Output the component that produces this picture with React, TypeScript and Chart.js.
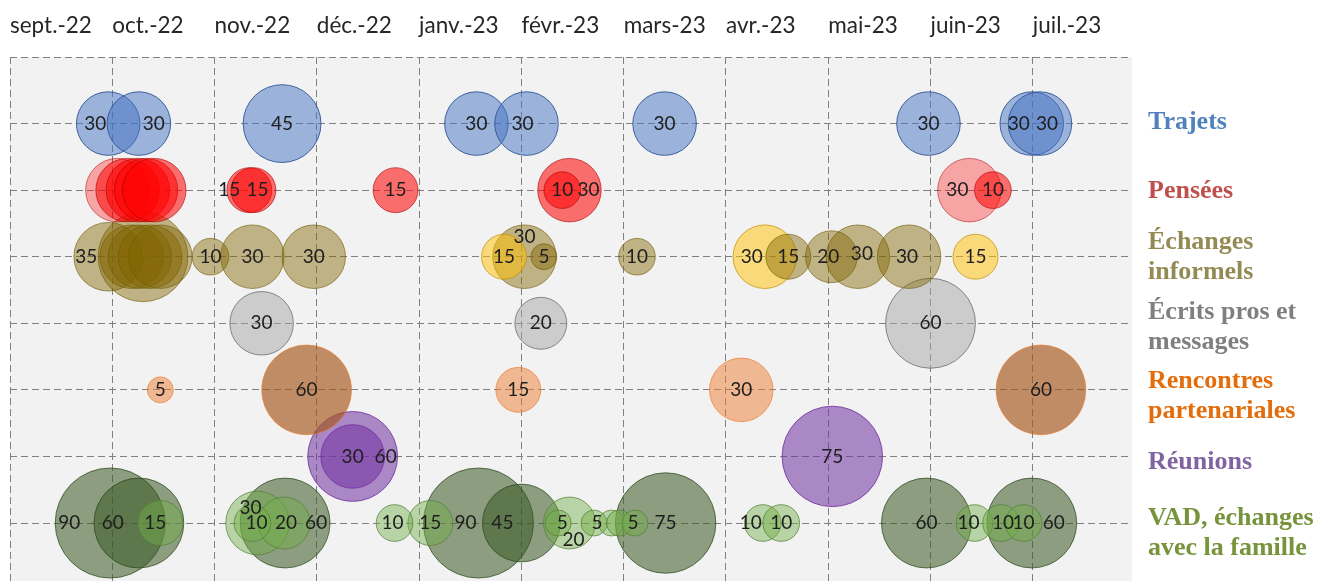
import React, { useEffect, useRef } from 'react';
import { Chart, registerables } from 'chart.js';

Chart.register(...registerables);

// ---------- DATA ----------
const months = ['sept.-22', 'oct.-22', 'nov.-22', 'déc.-22', 'janv.-23', 'févr.-23', 'mars-23', 'avr.-23', 'mai-23', 'juin-23', 'juil.-23'];
const rowTicks = [1, 2, 3, 4, 5, 6, 7, 8];

// x = month index (0 = sept.-22) with fraction of the month; v = minutes (bubble size)
// Trajets (row 7)
const trajetsX = [0.96, 1.26, 2.66, 4.56, 5.05, 6.40, 8.98, 9.99, 10.07];
const trajetsV = [30, 30, 45, 30, 30, 30, 30, 30, 30];

// Pensées (row 6)
const penseesX = [1.05, 1.15, 1.25, 1.33, 1.41, 2.34, 2.38, 3.77, 5.40, 5.47, 9.38, 9.61];
const penseesV = [30, 30, 30, 30, 30, 15, 15, 15, 10, 30, 30, 10];

// Échanges informels (row 5)
const echangesX = [0.96, 1.30, 1.19, 1.27, 1.37, 1.47, 1.96, 2.37, 2.97, 4.83, 5.03, 5.22, 6.13, 7.38, 7.61, 8.03, 8.29, 8.79, 9.44];
const echangesV = [35, 60, 30, 30, 30, 30, 10, 30, 30, 15, 30, 5, 10, 30, 15, 20, 30, 30, 15];

// Écrits pros et messages (row 4)
const ecritsX = [2.46, 5.19, 9.00];
const ecritsV = [30, 20, 60];

// Rencontres partenariales (row 3)
const rencontresX = [1.47, 2.90, 4.97, 7.15, 10.08];
const rencontresV = [5, 60, 15, 30, 60];

// Réunions (row 2)
const reunionsX = [3.35, 3.35, 8.04];
const reunionsV = [30, 60, 75];

// VAD, échanges avec la famille (row 1)
const vadX = [0.98, 1.26, 1.47, 2.37, 2.42, 2.68, 2.69, 3.76, 4.11, 4.58, 5.00, 5.36, 5.47, 5.71, 5.88, 5.96, 6.11, 6.41, 7.36, 7.54, 8.96, 9.43, 9.69, 9.91, 9.99];
const vadV = [90, 60, 15, 10, 30, 20, 60, 10, 15, 90, 45, 5, 20, 5, 5, 5, 5, 75, 10, 10, 60, 10, 10, 10, 60];

// ---------- STYLE (label offsets in px, null = no label; shade index) ----------
const trajetsLabelDx = [-13, 15, 0, 0, -4, 0, 0, -13, 7];
const penseesLabelDx = [null, null, null, null, null, -20, 4, 0, 0, 19, -12, 0];
const penseesShade = [1, 0, 0, 0, 0, 0, 0, 0, 0, 0, 1, 0];
const echangesLabelDx = [-22, null, null, null, null, null, 0, 0, 0, 0, 0, 0, 0, -13, 0, -3, 4, -2, 0];
const echangesLabelDy = [0, 0, 0, 0, 0, 0, 0, 0, 0, 0, -20, 0, 0, 0, 0, 0, -3, 0, 0];
const echangesShade = [0, 0, 0, 0, 0, 0, 0, 0, 0, 1, 0, 0, 0, 1, 0, 0, 0, 0, 1];
const ecritsLabelDx = [0, 0, 0];
const rencontresLabelDx = [0, 0, 0, 0, 0];
const rencontresShade = [0, 1, 0, 0, 1];
const reunionsLabelDx = [0, 33, 0];
const vadLabelDx = [-41, -26, -5, 4, -7, 2, 31, -2, 0, -13, -19, 4, 4, 3, null, null, -2, 0, -12, 0, 0, -6, 2, 0, 22];
const vadLabelDy = [0, 0, 0, 0, -15, 0, 0, 0, 0, 0, 0, 0, 17, 0, 0, 0, 0, 0, 0, 0, 0, 0, 0, 0, 0];
const vadShade = [1, 1, 0, 0, 0, 0, 1, 0, 0, 1, 1, 0, 0, 0, 0, 0, 0, 1, 0, 0, 1, 0, 0, 0, 1];

const legendLines = [['Trajets'], ['Pensées'], ['Échanges', 'informels'], ['Écrits pros et', 'messages'], ['Rencontres', 'partenariales'], ['Réunions'], ['VAD, échanges', 'avec la famille']];
const legendColors = ['#4F81BD', '#C0504D', '#948A54', '#7F7F7F', '#E46C0A', '#8064A2', '#77933C'];
const legendRows = [7, 6, 5, 4, 3, 2, 1];
const legendDy = [-1, 1, 0.5, 3.5, 6, 6, 10];

const K = 5.8; // bubble radius per sqrt(minute)

type Pt = { x: number; y: number; r: number; v: number; dx: number | null; dy: number; shade: number };

function buildPoints(row: number, xs: number[], vs: number[], dxs: (number | null)[], dys?: number[], shades?: number[]): Pt[] {
  const pts = xs.map((x, i) => ({
    x, y: row, r: K * Math.sqrt(vs[i]), v: vs[i],
    dx: dxs[i], dy: dys ? dys[i] : 0, shade: shades ? shades[i] : 0,
  }));
  return pts.sort((a, b) => b.r - a.r);
}

const series = [
  { name: 'Trajets', pts: buildPoints(7, trajetsX, trajetsV, trajetsLabelDx), fills: ['rgba(68,114,196,0.5)'], borders: ['rgba(47,85,151,0.9)'] },
  { name: 'Pensées', pts: buildPoints(6, penseesX, penseesV, penseesLabelDx, undefined, penseesShade), fills: ['rgba(255,0,0,0.55)', 'rgba(255,0,0,0.32)'], borders: ['rgba(170,0,0,0.6)', 'rgba(170,0,0,0.5)'] },
  { name: 'Échanges informels', pts: buildPoints(5, echangesX, echangesV, echangesLabelDx, echangesLabelDy, echangesShade), fills: ['rgba(128,100,0,0.45)', 'rgba(255,192,0,0.5)'], borders: ['rgba(110,90,0,0.6)', 'rgba(191,144,0,0.7)'] },
  { name: 'Écrits pros et messages', pts: buildPoints(4, ecritsX, ecritsV, ecritsLabelDx), fills: ['rgba(165,165,165,0.5)'], borders: ['rgba(110,110,110,0.8)'] },
  { name: 'Rencontres partenariales', pts: buildPoints(3, rencontresX, rencontresV, rencontresLabelDx, undefined, rencontresShade), fills: ['rgba(237,125,49,0.5)', 'rgba(165,85,25,0.65)'], borders: ['rgba(237,125,49,0.7)', 'rgba(237,125,49,0.6)'] },
  { name: 'Réunions', pts: buildPoints(2, reunionsX, reunionsV, reunionsLabelDx), fills: ['rgba(112,48,160,0.55)'], borders: ['rgba(112,48,160,0.8)'] },
  { name: 'VAD, échanges avec la famille', pts: buildPoints(1, vadX, vadV, vadLabelDx, vadLabelDy, vadShade), fills: ['rgba(112,173,71,0.45)', 'rgba(56,87,35,0.55)'], borders: ['rgba(84,130,53,0.75)', 'rgba(40,70,25,0.7)'] },
];

const plotBg = {
  id: 'plotBg',
  beforeDraw(chart: any) {
    const { ctx, chartArea: a } = chart;
    ctx.save();
    ctx.fillStyle = '#f2f2f2';
    ctx.fillRect(a.left, a.top, a.right - a.left, a.bottom - a.top);
    ctx.restore();
  },
};

const bubbleLabels = {
  id: 'bubbleLabels',
  afterDatasetsDraw(chart: any) {
    const { ctx } = chart;
    ctx.save();
    ctx.font = '19px Lato';
    ctx.fillStyle = '#1e1e1e';
    ctx.textAlign = 'center';
    ctx.textBaseline = 'middle';
    chart.data.datasets.forEach((ds: any, i: number) => {
      const meta = chart.getDatasetMeta(i);
      meta.data.forEach((el: any, j: number) => {
        const p = ds.data[j] as Pt;
        if (p.dx === null || p.dx === undefined) return;
        ctx.fillText(String(p.v), el.x + p.dx, el.y + p.dy);
      });
    });
    ctx.restore();
  },
};

const sideLegend = {
  id: 'sideLegend',
  afterDraw(chart: any) {
    const { ctx, chartArea, scales } = chart;
    ctx.save();
    ctx.font = 'bold 26px "Liberation Serif"';
    ctx.textAlign = 'left';
    ctx.textBaseline = 'middle';
    const lh = 30;
    legendLines.forEach((lines, i) => {
      const cy = scales.y.getPixelForValue(legendRows[i]) + legendDy[i];
      ctx.fillStyle = legendColors[i];
      lines.forEach((t, k) => {
        const y = cy + (k - (lines.length - 1) / 2) * lh;
        ctx.fillText(t, chartArea.right + 16, y);
      });
    });
    ctx.restore();
  },
};

export default function App() {
  const ref = useRef<HTMLCanvasElement | null>(null);
  useEffect(() => {
    if (!ref.current) return;
    const chart = new Chart(ref.current, {
      type: 'bubble',
      data: {
        datasets: series.map((s) => ({
          label: s.name,
          data: s.pts as any,
          backgroundColor: (c: any) => s.fills[(c.raw && c.raw.shade) || 0],
          borderColor: (c: any) => s.borders[(c.raw && c.raw.shade) || 0],
          borderWidth: 1,
          clip: false as any,
        })),
      },
      options: {
        responsive: false,
        animation: false,
        events: [],
        layout: { autoPadding: false, padding: { left: 10, right: 193, top: 0, bottom: 0 } },
        plugins: { legend: { display: false }, tooltip: { enabled: false } },
        scales: {
          x: {
            type: 'linear',
            position: 'top',
            min: 0,
            max: 10.97,
            afterBuildTicks: (s: any) => { s.ticks = months.map((_, i) => ({ value: i })); },
            afterFit: (s: any) => { s.height = 57; s.paddingLeft = 0; s.paddingRight = 0; },
            grid: { color: '#808080', lineWidth: 1, drawTicks: false },
            border: { display: false, dash: [7, 4] },
            ticks: {
              callback: (_v: any, i: number) => months[i],
              align: 'start',
              padding: 18,
              autoSkip: false,
              maxRotation: 0,
              font: { family: 'Lato', size: 22.5 },
              color: '#262626',
            },
          },
          y: {
            type: 'linear',
            min: 0.129,
            max: 8,
            afterBuildTicks: (s: any) => { s.ticks = rowTicks.map((v) => ({ value: v })); },
            afterFit: (s: any) => { s.width = 0; s.paddingTop = 0; s.paddingBottom = 0; },
            grid: { color: '#808080', lineWidth: 1, drawTicks: false },
            border: { display: false, dash: [7, 4] },
            ticks: { display: false },
          },
        },
      } as any,
      plugins: [plotBg, bubbleLabels, sideLegend],
    });
    return () => chart.destroy();
  }, []);
  return (
    <canvas
      ref={ref}
      width={1325}
      height={581}
      style={{ position: 'fixed', left: 0, top: 0, display: 'block', background: '#ffffff' }}
    />
  );
}
